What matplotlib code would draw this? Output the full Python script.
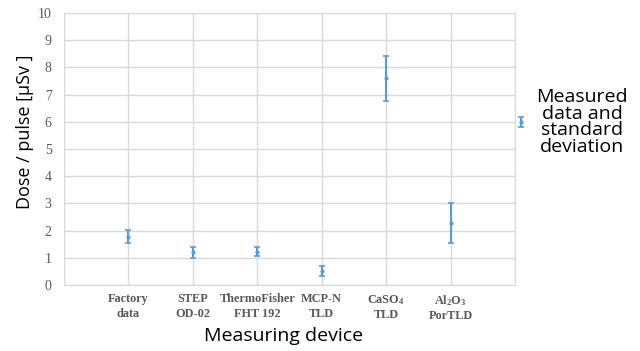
import matplotlib
matplotlib.use("Agg")
import matplotlib.pyplot as plt
from matplotlib.legend_handler import HandlerErrorbar

# data
devices = ["Factory\ndata", "STEP\nOD-02", "ThermoFisher\nFHT 192", "MCP-N\nTLD",
           "CaSO$_4$\nTLD", "Al$_2$O$_3$\nPorTLD"]
dose = [1.78, 1.21, 1.23, 0.52, 7.60, 2.28]
std_dev = [0.25, 0.20, 0.18, 0.18, 0.83, 0.74]

plt.rcParams["mathtext.fontset"] = "custom"
plt.rcParams["mathtext.rm"] = "Liberation Serif:bold"
plt.rcParams["mathtext.default"] = "rm"

blue = "#5b9bd5"
grid_c = "#d9d9d9"
tick_c = "#595959"

fig = plt.figure(figsize=(6.4, 3.51), dpi=100)
ax = fig.add_axes([64 / 640, 1 - 285 / 351, 451 / 640, 272 / 351])

x = list(range(1, len(devices) + 1))
eb = ax.errorbar(x, dose, yerr=std_dev, fmt="o", color=blue, ms=2, elinewidth=1.5,
                 capsize=2.5, capthick=1.2)

ax.set_xlim(0, 7)
ax.set_ylim(0, 10)
ax.set_yticks(range(0, 11))
ax.set_xticks(range(0, 8))
ax.set_xticklabels([""] + devices + [""], family="Liberation Serif", fontweight="bold",
                   fontsize=8.8, color=tick_c, linespacing=1.25)
for lab in ax.get_yticklabels():
    lab.set_family("Liberation Serif")
    lab.set_fontsize(10)
    lab.set_color(tick_c)
ax.tick_params(axis="y", length=0, pad=9)
ax.tick_params(axis="x", length=0, pad=6)
ax.grid(True, color=grid_c, lw=1)
ax.set_axisbelow(True)
for s in ax.spines.values():
    s.set_color(grid_c)

ax.set_ylabel("Dose / pulse [µSv ]", family="Open Sans", fontsize=13)
ax.yaxis.set_label_coords(-0.066, 0.5625)
ax.set_xlabel("Measuring device", family="Open Sans", fontsize=14)
ax.xaxis.set_label_coords(0.486, -0.155)

leg = fig.legend([eb], ["Measured\ndata and\nstandard\ndeviation"], loc="center left",
                 bbox_to_anchor=(515 / 640, 1 - 122 / 351), frameon=False,
                 prop={"family": "Open Sans", "size": 14}, handlelength=0.6,
                 handletextpad=0.5, borderpad=0, borderaxespad=0,
                 handler_map={type(eb): HandlerErrorbar(yerr_size=0.27)})
for t in leg.get_texts():
    t.set_multialignment("center")
    t.set_linespacing(0.92)

fig.savefig("out.png", dpi=100)
